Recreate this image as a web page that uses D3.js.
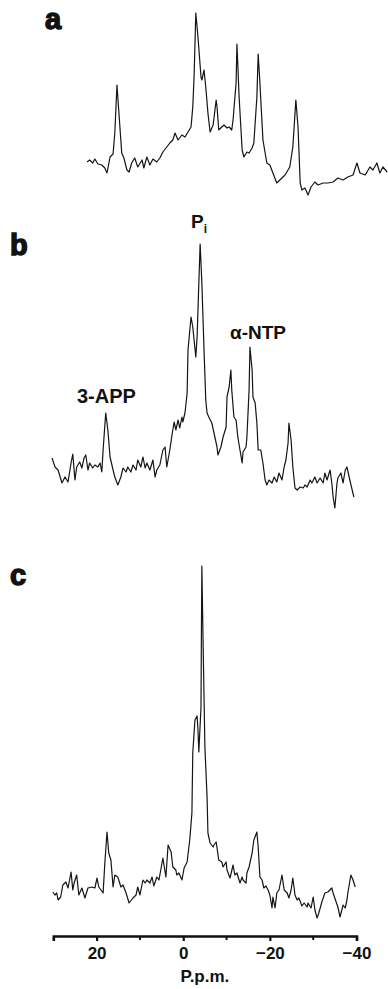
<!DOCTYPE html>
<html>
<head>
<meta charset="utf-8">
<script src="https://cdn.jsdelivr.net/npm/d3@7/dist/d3.min.js"></script>
<style>
  html, body { margin: 0; padding: 0; background: #fff; }
  svg { display: block; }
  text { font-family: "Liberation Sans", Arial, Helvetica, sans-serif; fill: #111; }
</style>
</head>
<body>
<svg id="fig" width="388" height="989"></svg>
<script>
// 31P NMR spectra: chemical shift (p.p.m.) and signal intensity (arbitrary units)
const specA_ppm = [22.2,21.6,20.9,20.4,19.7,18.8,18.1,17.6,16.9,16.2,15.8,15.3,14.9,14.2,13.7,13.0,12.5,11.9,11.2,10.5,9.5,9.1,8.4,7.7,7.0,6.1,5.4,4.7,3.8,3.1,2.4,1.9,1.2,0.3,-0.4,-1.1,-1.8,-2.2,-2.5,-2.9,-3.4,-4.1,-4.3,-4.8,-5.2,-5.7,-6.2,-6.9,-7.6,-7.8,-8.2,-8.9,-9.4,-10.1,-10.6,-11.2,-11.5,-12.2,-12.4,-12.9,-13.6,-14.0,-14.7,-15.2,-15.9,-16.3,-17.0,-17.3,-17.7,-18.4,-19.3,-20.0,-20.7,-21.6,-22.3,-23.5,-24.6,-25.3,-26.0,-26.5,-27.0,-27.4,-28.1,-28.8,-29.5,-30.4,-31.1,-32.3,-33.4,-34.6,-35.7,-36.9,-38.0,-39.2,-40.1,-40.8,-42.0,-43.1,-43.8,-44.7,-45.4,-46.1,-47.1];
const specA_int = [38,40,37,41,36,35,32,27,43,46,67,115,90,47,42,30,28,37,42,33,40,32,43,35,41,38,42,48,53,57,60,67,60,65,63,68,73,93,123,187,163,123,120,130,113,87,68,75,100,93,70,73,75,72,73,70,80,117,156,103,50,43,48,47,52,57,103,146,117,60,37,35,27,17,20,25,33,53,100,73,17,10,12,5,13,18,15,17,17,18,22,20,23,25,37,27,25,33,30,37,27,33,28];

const specB_ppm = [30.3,29.6,28.9,28.0,27.3,26.6,25.9,25.5,25.0,24.6,23.9,23.4,22.9,22.5,22.0,21.6,20.9,20.4,19.7,19.2,18.8,18.5,17.9,17.4,16.9,16.2,15.8,15.1,14.4,13.9,13.2,12.8,12.1,11.6,10.9,10.5,9.8,9.3,8.8,8.4,7.7,7.0,6.5,6.1,5.4,4.7,4.2,3.8,3.1,2.6,2.1,1.7,1.2,0.8,0.3,0.1,-0.4,-0.9,-1.1,-1.8,-2.2,-2.9,-3.2,-3.6,-3.9,-4.3,-4.8,-5.2,-5.5,-5.9,-6.6,-7.1,-7.8,-8.0,-8.7,-9.2,-9.9,-10.1,-10.6,-11.0,-11.2,-11.7,-12.2,-12.6,-13.1,-13.6,-13.8,-14.5,-14.7,-15.2,-15.4,-15.9,-16.1,-16.6,-17.0,-17.3,-17.9,-18.4,-18.9,-19.3,-19.8,-20.5,-21.0,-21.6,-22.1,-22.8,-23.3,-23.7,-24.2,-24.4,-24.9,-25.3,-25.8,-26.3,-27.0,-27.7,-28.1,-28.6,-29.3,-29.7,-30.4,-30.9,-31.6,-32.3,-32.7,-33.2,-33.9,-34.3,-34.6,-35.0,-35.5,-35.7,-36.4,-36.9,-37.4,-37.8,-38.3,-39.0,-39.4];
const specB_int = [52,43,40,27,33,28,47,56,30,43,48,42,52,55,40,47,42,45,43,47,38,60,97,80,53,40,33,25,33,42,38,43,38,45,40,50,43,53,42,47,40,50,33,40,45,60,63,43,60,75,88,80,90,82,93,88,97,117,160,193,183,153,173,227,266,227,160,110,97,93,87,77,63,55,63,73,83,113,123,140,120,93,90,73,60,47,58,63,73,120,163,140,113,107,87,60,60,47,30,25,30,27,33,28,37,30,43,50,67,87,70,43,22,20,23,22,25,23,30,27,33,27,32,27,37,30,40,27,13,2,27,32,37,27,40,43,33,20,13];

const specC_ppm = [30.1,29.6,29.2,28.9,28.3,27.8,27.1,26.6,25.9,25.5,25.2,24.6,24.1,23.4,22.7,22.0,21.1,20.4,19.9,19.5,18.5,18.1,17.6,17.2,16.7,16.2,15.8,15.1,14.4,13.9,13.2,12.5,11.6,10.9,10.5,10.0,9.3,8.8,8.4,7.7,7.2,6.8,6.1,5.6,4.7,4.0,3.5,2.8,2.4,1.7,1.5,1.0,0.3,-0.2,-0.9,-1.3,-1.5,-2.0,-2.2,-2.7,-3.2,-3.4,-3.6,-4.1,-4.2,-4.3,-4.6,-5.0,-5.5,-5.7,-6.2,-6.9,-7.1,-7.6,-7.8,-8.2,-8.9,-9.2,-9.9,-10.1,-10.8,-11.5,-11.9,-12.4,-13.1,-13.6,-13.8,-14.5,-14.7,-15.2,-15.9,-16.3,-17.0,-17.3,-17.7,-18.2,-18.6,-19.1,-19.6,-20.0,-20.5,-20.7,-21.2,-21.6,-22.1,-22.8,-23.3,-24.0,-24.4,-24.9,-25.3,-25.8,-26.3,-26.7,-27.4,-27.9,-28.6,-28.8,-29.5,-30.0,-30.4,-30.9,-31.3,-32.0,-32.7,-33.4,-34.3,-34.6,-35.3,-35.7,-36.2,-36.9,-37.4,-37.8,-38.0,-38.7,-39.2,-39.7];
const specC_int = [33,30,32,25,28,40,43,37,53,35,42,50,30,37,27,37,38,37,47,38,32,62,93,72,65,38,50,48,38,40,32,22,27,30,38,30,45,42,45,42,48,39,48,45,67,48,80,73,58,55,50,52,45,57,63,78,85,112,172,205,209,195,173,218,295,359,278,178,128,92,82,78,80,83,77,65,63,58,63,55,47,60,50,52,42,48,45,42,52,58,72,85,93,78,48,45,37,39,35,30,17,28,17,32,35,50,35,32,27,35,47,30,25,27,19,22,18,22,17,28,15,7,12,23,32,33,37,32,23,18,8,20,17,25,32,50,45,38];

const panelLetters = ["a", "b", "c"];
const peakLabels = ["3-APP", "α-NTP"];
const axisTicks = [20, 0, -20, -40];
const minorTicks = [10, -10, -30];
const axisTitle = "P.p.m.";

const svg = d3.select("#fig");

// shared chemical-shift scale (high field to the right)
const x = d3.scaleLinear().domain([30, -40]).range([53.3, 356.5]);

// one vertical scale per spectrum, anchored at its baseline
const panels = [
  { ppm: specA_ppm, int: specA_int, base: 200 },
  { ppm: specB_ppm, int: specB_int, base: 510 },
  { ppm: specC_ppm, int: specC_int, base: 925 }
];

panels.forEach(p => {
  const y = d3.scaleLinear().domain([0, 100]).range([p.base, p.base - 100]);
  const pts = p.ppm.map((v, i) => [v, p.int[i]]);
  const line = d3.line().x(d => x(d[0])).y(d => y(d[1])).curve(d3.curveLinear);
  svg.append("path")
    .datum(pts)
    .attr("d", line)
    .attr("fill", "none")
    .attr("stroke", "#151515")
    .attr("stroke-width", 1.2)
    .attr("stroke-linejoin", "round");
});

// panel letters
const letterPos = [[45, 29], [10, 255], [10, 585]];
panelLetters.forEach((t, i) => {
  svg.append("text")
    .attr("x", letterPos[i][0]).attr("y", letterPos[i][1])
    .attr("font-size", 29).attr("font-weight", 900)
    .attr("stroke", "#111").attr("stroke-width", 1.4)
    .text(t);
});

// peak annotations on spectrum b
const pi = svg.append("text")
  .attr("x", 191).attr("y", 228)
  .attr("font-size", 19).attr("font-weight", 700);
pi.append("tspan").text("P");
pi.append("tspan").attr("font-size", 12).attr("dy", 5).text("i");

svg.append("text").attr("x", 77).attr("y", 403)
  .attr("font-size", 20).attr("font-weight", 700).text(peakLabels[0]);
svg.append("text").attr("x", 230).attr("y", 339)
  .attr("font-size", 19).attr("font-weight", 700).text(peakLabels[1]);

// chemical shift axis
const axisY = 936;
const fmt = d => d < 0 ? "\u2212" + Math.abs(d) : String(d);
const axisG = svg.append("g")
  .attr("transform", `translate(0,${axisY})`)
  .call(d3.axisBottom(x).tickValues(axisTicks).tickFormat(fmt)
    .tickSize(5).tickSizeOuter(5).tickPadding(6));
axisG.select(".domain").attr("stroke", "#111").attr("stroke-width", 2.6);
axisG.selectAll(".tick line").attr("stroke", "#111").attr("stroke-width", 2.2);
axisG.selectAll(".tick text")
  .attr("font-size", 17).attr("font-weight", 700)
  .attr("font-family", "Liberation Sans, Arial, sans-serif").attr("fill", "#111");

svg.append("g").selectAll("line").data(minorTicks).join("line")
  .attr("x1", d => x(d)).attr("x2", d => x(d))
  .attr("y1", axisY).attr("y2", axisY + 4)
  .attr("stroke", "#111").attr("stroke-width", 2);

svg.append("text")
  .attr("x", x(-5)).attr("y", 982)
  .attr("text-anchor", "middle")
  .attr("font-size", 17).attr("font-weight", 700)
  .text(axisTitle);
</script>
</body>
</html>
